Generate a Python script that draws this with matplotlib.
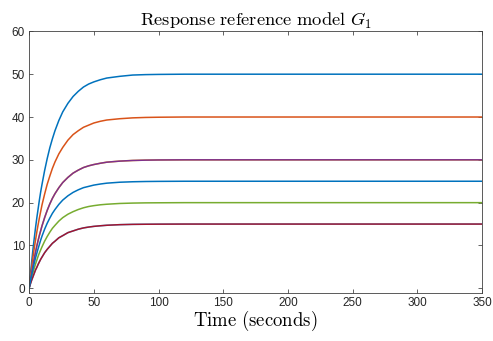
import matplotlib
matplotlib.use('Agg')
import matplotlib.pyplot as plt

# --- DATA ---
t = [0, 1, 2, 3, 4, 5, 6, 7, 8, 9, 10, 12, 14, 16, 18, 20, 23, 26, 30, 34,
     38, 42, 46, 50, 55, 60, 70, 80, 90, 100, 120, 150, 350]

y50 = [0, 3.2, 6.2, 9.1, 11.7, 14.2, 16.5, 18.6, 20.7, 22.6, 24.3, 27.5, 30.3, 32.8, 34.9, 36.8,
       39.2, 41.2, 43.2, 44.8, 46.0, 47.0, 47.7, 48.2, 48.7, 49.1, 49.5, 49.8, 49.9, 49.95, 50.0, 50, 50]
y40 = [0, 2.6, 5.0, 7.3, 9.4, 11.3, 13.2, 14.9, 16.5, 18.0, 19.5, 22.0, 24.3, 26.2, 28.0, 29.5,
       31.4, 32.9, 34.6, 35.9, 36.8, 37.6, 38.1, 38.6, 39.0, 39.3, 39.6, 39.8, 39.9, 39.95, 40.0, 40, 40]
y30 = [0, 1.9, 3.7, 5.4, 7.0, 8.5, 9.9, 11.2, 12.4, 13.5, 14.6, 16.5, 18.2, 19.7, 21.0, 22.1,
       23.5, 24.7, 25.9, 26.9, 27.6, 28.2, 28.6, 28.9, 29.2, 29.45, 29.7, 29.85, 29.93, 29.97, 30.0, 30, 30]
y25 = [0, 1.6, 3.1, 4.5, 5.9, 7.1, 8.2, 9.3, 10.3, 11.3, 12.2, 13.8, 15.2, 16.4, 17.5, 18.4,
       19.6, 20.6, 21.6, 22.4, 23.0, 23.5, 23.8, 24.1, 24.35, 24.55, 24.77, 24.88, 24.94, 24.97, 25.0, 25, 25]
y20 = [0, 1.3, 2.5, 3.6, 4.7, 5.7, 6.6, 7.5, 8.3, 9.0, 9.7, 11.0, 12.1, 13.1, 14.0, 14.7,
       15.7, 16.5, 17.3, 17.9, 18.4, 18.8, 19.1, 19.3, 19.5, 19.63, 19.81, 19.9, 19.95, 19.97, 20.0, 20, 20]
y15 = [0, 1.0, 1.9, 2.7, 3.5, 4.3, 4.9, 5.6, 6.2, 6.8, 7.3, 8.3, 9.1, 9.8, 10.5, 11.0,
       11.8, 12.3, 13.0, 13.4, 13.8, 14.1, 14.3, 14.46, 14.6, 14.72, 14.86, 14.93, 14.96, 14.98, 15.0, 15, 15]

series = [
    (y50, '#0072BD'),
    (y40, '#D95319'),
    (y30, '#EDB120'),
    (y30, '#7E2F8E'),
    (y20, '#77AC30'),
    (y15, '#4DBEEE'),
    (y15, '#A2142F'),
    (y25, '#0072BD'),
]

x_ticks = [0, 50, 100, 150, 200, 250, 300, 350]
y_ticks = [0, 10, 20, 30, 40, 50, 60]

plt.rcParams['mathtext.fontset'] = 'cm'
plt.rcParams['font.family'] = 'Liberation Sans'

fig = plt.figure(figsize=(4.93, 3.41), dpi=100)
ax = fig.add_axes([0.059, 0.142, 0.919, 0.766])

for y, c in series:
    ax.plot(t, y, color=c, linewidth=1.1, solid_joinstyle='round')

ax.set_xlim(0, 350)
ax.set_ylim(-1, 60)
ax.set_xticks(x_ticks)
ax.set_yticks(y_ticks)
ax.tick_params(direction='in', length=3, width=0.5, labelsize=8.5,
               top=True, right=True, colors='#262626', pad=3)
for s in ax.spines.values():
    s.set_linewidth(0.6)
    s.set_color('#404040')

ax.set_title(r'$\mathrm{Response\ reference\ model}\ G_1$', fontsize=13.3, pad=4)
ax.set_xlabel(r'$\mathrm{Time\ (seconds)}$', fontsize=13.5, labelpad=0)

fig.savefig('out.png', dpi=100)
